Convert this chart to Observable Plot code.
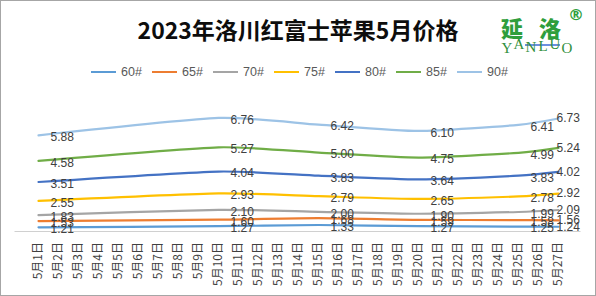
<!DOCTYPE html>
<html><head><meta charset="utf-8">
<script src="https://cdn.jsdelivr.net/npm/d3@7"></script>
<script src="https://cdn.jsdelivr.net/npm/@observablehq/plot@0.6"></script>
<style>
body{margin:0;background:#fff;}
#wrap{position:relative;width:596px;height:296px;overflow:hidden;font-family:"Noto Sans CJK SC",sans-serif;background:#fff;}
#frame{position:absolute;left:0;top:0;width:596px;height:296px;box-sizing:border-box;border:1px solid #a6a6a6;pointer-events:none;}
#title{position:absolute;left:0;width:596px;top:13px;text-align:center;font-size:23px;font-weight:bold;color:#0d0d0d;line-height:32px;}
#legend{position:absolute;left:91px;top:63px;display:flex;height:18px;}
.item{width:61px;display:flex;align-items:center;font-family:"Liberation Sans",sans-serif;font-size:12.5px;color:#595959;}
.sw{width:25px;height:2.2px;margin-right:5px;}
#chart{position:absolute;left:0;top:0;}
#logo{position:absolute;left:501px;top:14px;width:90px;height:45px;color:#2f9e3c;}
#logo .cn{font-family:"Noto Sans CJK SC";font-weight:900;font-size:22px;line-height:26px;letter-spacing:16px;}
#logo .en{position:absolute;left:0px;top:25px;font-family:"Liberation Serif",serif;font-size:15px;line-height:15px;color:#2f8f3c;white-space:nowrap;}
#logo .en span{display:inline-block;width:12px;text-align:center;}
#logo .bar{position:absolute;left:24px;top:30px;width:35px;height:1.5px;background:#6d8fe0;}
#logo .r{position:absolute;left:67px;top:-9px;font-size:16px;font-family:"DejaVu Sans";font-weight:bold;}
</style>
</head><body>
<div id="wrap">
  <div id="title">2023年洛川红富士苹果5月价格</div>
  <div id="logo">
    <div class="cn">延洛</div>
    <div class="bar"></div>
    <div class="en"><span style="position:relative;top:2px">Y</span><span style="position:relative;top:-2px">A</span><span style="position:relative;top:1px">N</span><span>L</span><span style="position:relative;top:-2px">U</span><span style="position:relative;top:2px">O</span></div>
    <div class="r">®</div>
  </div>
  <div id="legend"></div>
  <div id="chart"></div>
  <div id="frame"></div>
</div>
<script>
const grades = ["60#", "65#", "70#", "75#", "80#", "85#", "90#"];
const colors = ["#5B9BD5", "#ED7D31", "#A5A5A5", "#FFC000", "#4472C4", "#70AD47", "#9DC3E6"];
const dataDays = ["5月1日", "5月10日", "5月15日", "5月20日", "5月25日", "5月27日"];
const p60 = [1.21, 1.27, 1.33, 1.27, 1.25, 1.24];
const p65 = [1.53, 1.60, 1.68, 1.59, 1.58, 1.56];
const p70 = [1.83, 2.10, 2.00, 1.90, 1.99, 2.09];
const p75 = [2.55, 2.93, 2.79, 2.65, 2.78, 2.92];
const p80 = [3.51, 4.04, 3.83, 3.64, 3.83, 4.02];
const p85 = [4.58, 5.27, 5.00, 4.75, 4.99, 5.24];
const p90 = [5.88, 6.76, 6.42, 6.10, 6.41, 6.73];
const tickLabels = ["5月1日","5月2日","5月3日","5月4日","5月5日","5月6日","5月7日","5月8日","5月9日","5月10日",
  "5月11日","5月12日","5月13日","5月14日","5月15日","5月16日","5月17日","5月18日","5月19日","5月20日",
  "5月21日","5月22日","5月23日","5月24日","5月25日","5月26日","5月27日"];

const series = [p60, p65, p70, p75, p80, p85, p90];
const rows = [];
series.forEach((vals, gi) => vals.forEach((v, di) => rows.push({grade: grades[gi], date: dataDays[di], value: v, last: di === vals.length - 1})));

// legend
const lg = document.getElementById("legend");
grades.forEach((g, i) => {
  const it = document.createElement("div"); it.className = "item";
  const sw = document.createElement("span"); sw.className = "sw"; sw.style.background = colors[i];
  const tx = document.createElement("span"); tx.textContent = g;
  it.appendChild(sw); it.appendChild(tx); lg.appendChild(it);
});

const chart = Plot.plot({
  width: 596, height: 296,
  marginLeft: 14.5, marginRight: 15.5, marginTop: 93, marginBottom: 65,
  style: {background: "transparent", overflow: "visible"},
  x: {type: "point", domain: tickLabels, padding: 0.5, label: null},
  y: {domain: [1, 8], axis: null},
  color: {domain: grades, range: colors},
  marks: [
    Plot.ruleY([1], {stroke: "#d0d0d0", strokeWidth: 1}),
    Plot.axisX({tickSize: 0, tickPadding: 10.5, tickRotate: -90, textAnchor: "end", lineAnchor: "middle",
      fontSize: 12, fill: "#404040", fontFamily: "Noto Sans CJK SC", label: null}),
    Plot.line(rows, {x: "date", y: "value", z: "grade", stroke: "grade", strokeWidth: 2.2, curve: "cardinal", tension: 0.4}),
    Plot.text(rows.filter(d => !d.last), {x: "date", y: "value", text: d => d.value.toFixed(2), textAnchor: "start", dx: 12, dy: 2,
      fill: "#404040", fontSize: 12, fontFamily: "Liberation Sans"}),
    Plot.text(rows.filter(d => d.last), {x: "date", y: "value", text: d => d.value.toFixed(2), textAnchor: "start", dx: -2,
      fill: "#404040", fontSize: 12, fontFamily: "Liberation Sans"})
  ]
});
document.getElementById("chart").appendChild(chart);
</script>
</body></html>
